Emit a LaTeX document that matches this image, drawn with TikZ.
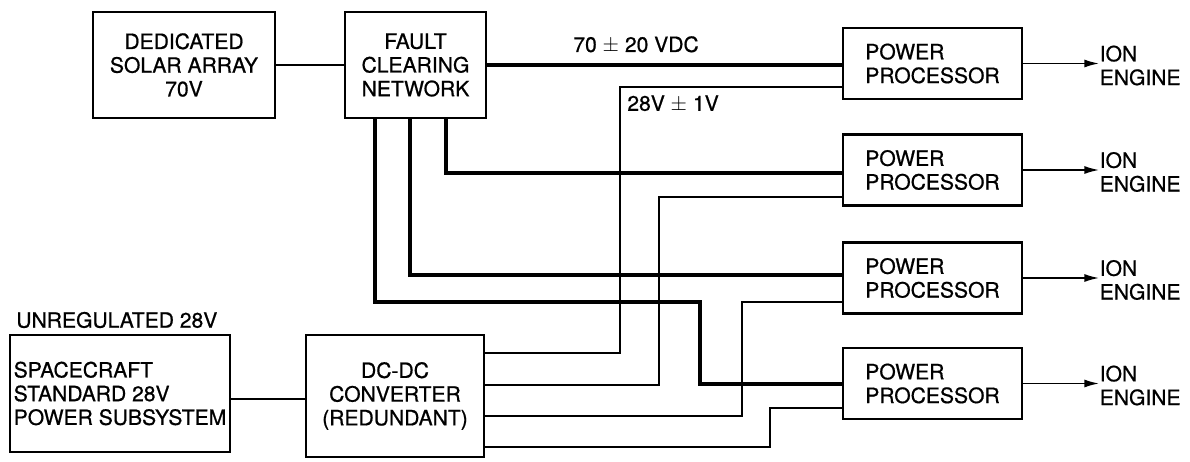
\documentclass[tikz,border=0pt]{standalone}
\usepackage{fontspec}
\setmainfont{TeX Gyre Heros}[FakeBold=0.7]
\usetikzlibrary{arrows.meta,calc}

\begin{document}
\begin{tikzpicture}[x=0.02cm,y=-0.02cm,
  box/.style={draw,line width=1.6pt,align=center,inner sep=0pt,font=\fontsize{12}{13.5}\selectfont},
  ppbox/.style={box,minimum width=3.58cm,minimum height=1.42cm,align=left},
  pw/.style={line width=2.6pt},
  sig/.style={line width=1.1pt},
  arr/.style={line width=1.1pt,-{Latex[length=3mm,width=1.6mm]}},
  lbl/.style={inner sep=0pt,font=\fontsize{12}{13.5}\selectfont}]
\useasboundingbox (0,0) rectangle (1190,462);

\node[box,minimum width=3.64cm,minimum height=2.12cm] (sa) at (184,65) {DEDICATED\\SOLAR ARRAY\\70V};
\node[box,minimum width=2.82cm,minimum height=2.12cm] (fcn) at (415.5,65) {FAULT\\CLEARING\\NETWORK};
\node[box,minimum width=4.4cm,minimum height=2.34cm,align=left] (sc) at (120,393.5) {SPACECRAFT\\STANDARD 28V\\POWER SUBSYSTEM};
\node[box,minimum width=3.56cm,minimum height=2.44cm] (dc) at (395,396) {DC-DC\\CONVERTER\\(REDUNDANT)};

\node[ppbox] (pp1) at (932.5,63.5) {POWER\\PROCESSOR};
\node[ppbox] (pp2) at (932.5,170) {POWER\\PROCESSOR};
\node[ppbox] (pp3) at (932.5,278) {POWER\\PROCESSOR};
\node[ppbox] (pp4) at (932.5,383.5) {POWER\\PROCESSOR};

\foreach \i in {1,...,4}{
  \node[lbl,anchor=west,align=left] (ie\i) at ($(pp\i.east)+(76,2)$) {ION\\ENGINE};
  \draw[arr] (pp\i.east) -- (ie\i.west |- pp\i.east);
}

\node[lbl,anchor=west] (vhi) at (573,45) {70 $\pm$ 20 VDC};
\node[lbl,anchor=west] (vlo) at (627,104) {28V $\pm$ 1V};
\node[lbl,anchor=west] (unr) at (16,320) {UNREGULATED 28V};

\coordinate (b1) at (446,173);
\coordinate (b2) at (410,275);
\coordinate (b3) at (375,302);
\coordinate (b4) at (700,384);
\coordinate (a1) at (620,87);
\coordinate (a2) at (659,197);
\coordinate (a3) at (742,302);
\coordinate (a4) at (770,408);
\coordinate (o1) at (0,353);
\coordinate (o2) at (0,385);
\coordinate (o3) at (0,416);
\coordinate (o4) at (0,447);

\draw[sig] (sa.east) -- (fcn.west);
\draw[sig] (sc.east |- 0,399) -- (dc.west |- 0,399);

\draw[pw] (fcn.east) -- (pp1.west |- fcn.east);
\draw[pw] (fcn.south -| b1) |- (pp2.west |- b1);
\draw[pw] (fcn.south -| b2) |- (pp3.west |- b2);
\draw[pw] (fcn.south -| b3) |- (b4 |- b3) -- (b4) -- (pp4.west |- b4);

\draw[sig] (dc.east |- o1) -| (a1) -- (pp1.west |- a1);
\draw[sig] (dc.east |- o2) -| (a2) -- (pp2.west |- a2);
\draw[sig] (dc.east |- o3) -| (a3) -- (pp3.west |- a3);
\draw[sig] (dc.east |- o4) -| (a4) -- (pp4.west |- a4);

\end{tikzpicture}
\end{document}
